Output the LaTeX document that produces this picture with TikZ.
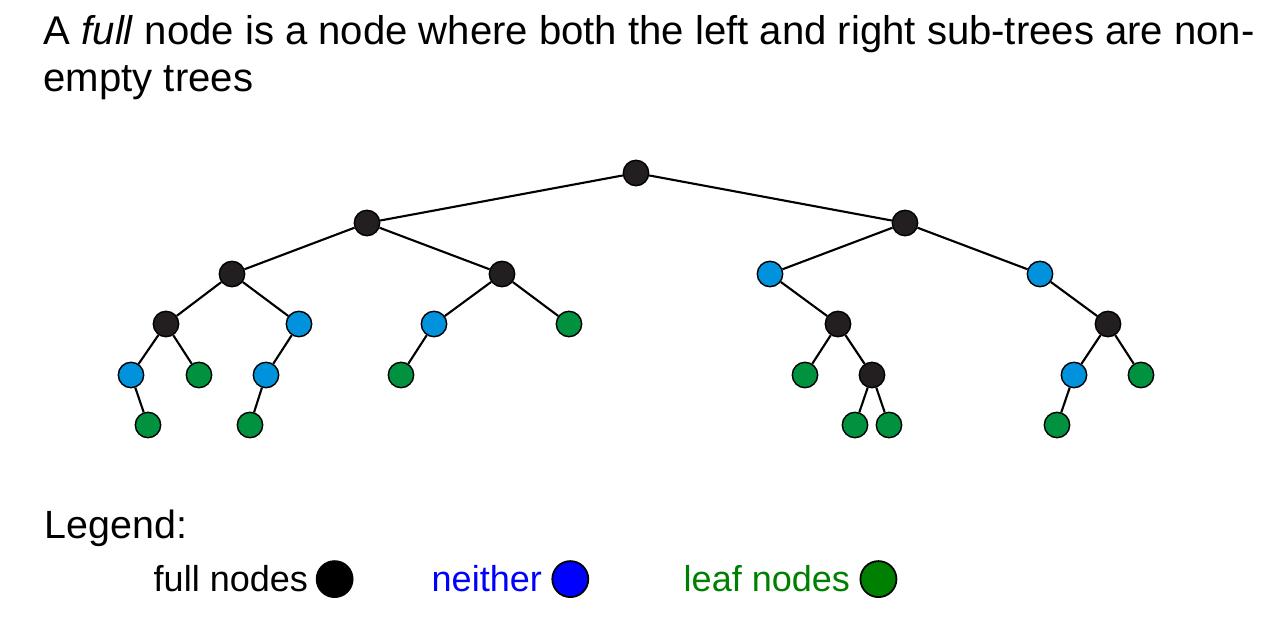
\documentclass[tikz,border=0pt]{standalone}
\usepackage{fontspec}
\setmainfont{Liberation Sans}
\usepackage{tikz}
\usepackage{xcolor}
\usetikzlibrary{positioning}

\definecolor{fullcol}{HTML}{231F20}
\definecolor{neithercol}{HTML}{0092DD}
\definecolor{leafcol}{HTML}{00923F}
\definecolor{legblue}{HTML}{0000FF}
\definecolor{leggreen}{HTML}{008000}

\tikzset{
	treenode/.style={circle, draw=black, line width=0.4pt, minimum size=0.254cm, inner sep=0pt},
	fullnode/.style={treenode, fill=fullcol},
	neithernode/.style={treenode, fill=neithercol},
	leafnode/.style={treenode, fill=leafcol},
	edge/.style={line width=0.6pt},
	legdot/.style={circle, draw=black, line width=0.5pt, minimum size=0.36cm, inner sep=0pt},
	txt/.style={inner sep=0pt, font=\fontsize{10.25}{13.4}\selectfont},
	bigtxt/.style={inner sep=0pt, font=\fontsize{11.4}{13.4}\selectfont}
}

\begin{document}
\begin{tikzpicture}[x=0.01cm, y=-0.01cm]
	\useasboundingbox (0, 0) rectangle (1287, 622);
	% Title:
	\node[bigtxt, anchor=base west, align=left](T1) at (43, 92){A \textit{full} node is a node where both the left and right sub-trees are non-\\empty trees};
	% Tree nodes:
	\node[fullnode](N1) at (636, 173){};
	\node[fullnode](N2) at (367, 223){};
	\node[fullnode](N3) at (905, 223){};
	\node[fullnode](N4) at (232, 274){};
	\node[fullnode](N5) at (502, 274){};
	\node[neithernode](N6) at (770, 274){};
	\node[neithernode](N7) at (1040, 274){};
	\node[fullnode](N8) at (166, 324){};
	\node[neithernode](N9) at (299, 324){};
	\node[neithernode](N10) at (434, 324){};
	\node[leafnode](N11) at (569, 324){};
	\node[fullnode](N12) at (838, 324){};
	\node[fullnode](N13) at (1108, 324){};
	\node[neithernode](N14) at (131, 375){};
	\node[leafnode](N15) at (199, 375){};
	\node[neithernode](N16) at (266, 375){};
	\node[leafnode](N17) at (401, 375){};
	\node[leafnode](N18) at (805, 375){};
	\node[fullnode](N19) at (872, 375){};
	\node[neithernode](N20) at (1074, 375){};
	\node[leafnode](N21) at (1141, 375){};
	\node[leafnode](N22) at (148, 425){};
	\node[leafnode](N23) at (250, 425){};
	\node[leafnode](N24) at (855, 425){};
	\node[leafnode](N25) at (889, 425){};
	\node[leafnode](N26) at (1057, 425){};
	% Edges:
	\draw[edge] (N1) -- (N2);
	\draw[edge] (N1) -- (N3);
	\draw[edge] (N2) -- (N4);
	\draw[edge] (N2) -- (N5);
	\draw[edge] (N3) -- (N6);
	\draw[edge] (N3) -- (N7);
	\draw[edge] (N4) -- (N8);
	\draw[edge] (N4) -- (N9);
	\draw[edge] (N5) -- (N10);
	\draw[edge] (N5) -- (N11);
	\draw[edge] (N6) -- (N12);
	\draw[edge] (N7) -- (N13);
	\draw[edge] (N8) -- (N14);
	\draw[edge] (N8) -- (N15);
	\draw[edge] (N9) -- (N16);
	\draw[edge] (N10) -- (N17);
	\draw[edge] (N12) -- (N18);
	\draw[edge] (N12) -- (N19);
	\draw[edge] (N13) -- (N20);
	\draw[edge] (N13) -- (N21);
	\draw[edge] (N14) -- (N22);
	\draw[edge] (N16) -- (N23);
	\draw[edge] (N19) -- (N24);
	\draw[edge] (N19) -- (N25);
	\draw[edge] (N20) -- (N26);
	% Legend:
	\node[bigtxt, font=\fontsize{11.2}{13.4}\selectfont, anchor=base west](L0) at (44, 539){Legend:};
	\node[txt, anchor=base west](L1) at (153, 592){full nodes};
	\node[legdot, fill=black, right=2pt of L1](D1){};
	\node[txt, anchor=base west, text=legblue](L2) at (431, 592){neither};
	\node[legdot, fill=legblue, right=2.5pt of L2](D2){};
	\node[txt, anchor=base west, text=leggreen](L3) at (683, 592){leaf nodes};
	\node[legdot, fill=leggreen, right=2.5pt of L3](D3){};
\end{tikzpicture}
\end{document}
